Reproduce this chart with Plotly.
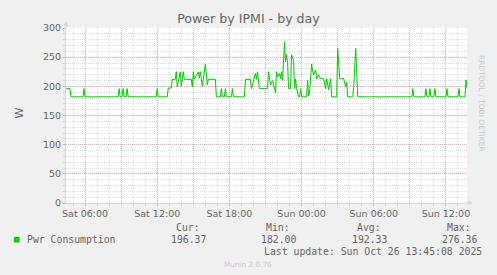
import pandas as pd
import plotly.graph_objects as go

# ---------------- data ----------------
series_name = "Pwr Consumption"
base_day = "2025-10-25 00:00"          # Sat
range_start_min = 265                  # Sat 04:25
range_end_min = 2265                   # Sun 13:45

# minutes since Sat 00:00 and watts
minutes = [265, 285, 290,
           350, 355, 360,
           525, 530, 535,
           545, 550, 555,
           565, 570, 575,
           715, 720, 725,
           770, 775, 790, 795, 810, 815, 820, 835, 840, 845, 850, 855, 890, 895, 900, 905,
           925, 930, 935, 945, 960, 970, 975, 1010, 1015,
           1035, 1040, 1045,
           1055, 1060, 1065,
           1090, 1095, 1100,
           1155, 1160, 1185, 1190, 1200, 1210, 1215, 1220, 1230, 1270, 1275, 1285, 1295,
           1305, 1310, 1315, 1320, 1330, 1335, 1340, 1345, 1355, 1360, 1365, 1370, 1375,
           1385, 1390, 1400, 1405, 1410, 1415, 1425, 1430, 1435, 1440,
           1465, 1470, 1475, 1480, 1490, 1495, 1500, 1510, 1515, 1525, 1535, 1550, 1560,
           1565, 1575, 1585, 1590,
           1615, 1620, 1630, 1650, 1660, 1665, 1670,
           1695, 1700, 1710, 1720,
           1990, 1995, 2000,
           2055, 2060, 2065,
           2075, 2080, 2085,
           2100, 2105, 2110,
           2160, 2165, 2170,
           2220, 2225, 2230,
           2255, 2260, 2265]
watts = [196, 196, 182,
         182, 196, 182,
         182, 196, 182,
         182, 196, 182,
         182, 196, 182,
         182, 196, 182,
         182, 197, 197, 212, 212, 225, 199, 225, 200, 218, 225, 212, 212, 199, 225, 212,
         225, 214, 225, 200, 238, 202, 212, 212, 182,
         182, 196, 182,
         182, 196, 182,
         182, 196, 182,
         182, 212, 212, 196, 212, 222, 212, 225, 196, 196, 225, 202, 210,
         196, 189, 225, 216, 222, 213, 225, 210, 276.36, 242, 254, 242, 196,
         196, 254, 245, 196, 213, 196, 182, 182, 196, 182,
         182, 210, 184, 190, 238, 226, 220, 228, 213, 220, 213, 213, 196,
         213, 194, 213, 182,
         182, 265, 213, 213, 199, 207, 182,
         182, 200, 265, 182,
         182, 196, 182,
         182, 196, 182,
         182, 196, 182,
         182, 196, 182,
         182, 196, 182,
         182, 196, 182,
         182, 211, 196.37]

stat_labels = ["Cur:", "Min:", "Avg:", "Max:"]
stat_values = ["196.37", "182.00", "192.33", "276.36"]
last_update = "Last update: Sun Oct 26 13:45:08 2025"

major_tick_hours = [6, 9, 12, 15, 18, 21, 24, 27, 30, 33, 36]
major_tick_text = ["Sat 06:00", "", "Sat 12:00", "", "Sat 18:00", "",
                   "Sun 00:00", "", "Sun 06:00", "", "Sun 12:00"]
minor_tick_hours = list(range(5, 38))
y_major = [0, 50, 100, 150, 200, 250, 300]
y_minor = list(range(0, 301, 10))

# ---------------- build ----------------
base = pd.Timestamp(base_day)
times = [base + pd.Timedelta(minutes=m) for m in minutes]
x0 = base + pd.Timedelta(minutes=range_start_min)
x1 = base + pd.Timedelta(minutes=range_end_min)
tickvals = [base + pd.Timedelta(hours=h) for h in major_tick_hours]
minorvals = [base + pd.Timedelta(hours=h) for h in minor_tick_hours]

W, H = 497, 275
PL, PR, PT, PB = 66, 467, 28, 203


def px(x):
    return (x - PL) / (PR - PL)


def py(y):
    return (PB - y) / (PB - PT)


FONT = "DejaVu Sans"
MONO = "DejaVu Sans Mono"
FC = "#666666"
AXC = "#CFD6F8"
MGRID = "rgba(230,110,110,0.45)"
GRID = "rgba(160,160,160,0.35)"
GREEN = "#00CC00"

fig = go.Figure()
fig.add_trace(go.Scatter(x=times, y=watts, mode="lines", name=series_name,
                         line=dict(color=GREEN, width=1), hoverinfo="skip"))

fig.update_layout(
    width=W, height=H,
    margin=dict(l=PL, r=W - PR, t=PT, b=H - PB),
    paper_bgcolor="#F0F0F0", plot_bgcolor="#FFFFFF",
    showlegend=False,
    font=dict(family=FONT, color=FC, size=9.5),
    title=dict(text="Power by IPMI - by day", x=0.5, xref="container", xanchor="center",
               y=1 - 19 / H, yref="container", yanchor="middle",
               font=dict(family=FONT, size=12.6, color=FC)),
)
fig.update_xaxes(
    type="date", range=[x0, x1], tickmode="array", tickvals=tickvals, ticktext=major_tick_text,
    showgrid=True, gridcolor=MGRID, griddash="1px,1px", gridwidth=1,
    ticks="outside", ticklen=2, tickcolor=MGRID,
    showline=True, linecolor=AXC, linewidth=1, zeroline=False,
    tickfont=dict(family=FONT, size=9.5, color=FC),
    minor=dict(tickmode="array", tickvals=minorvals, showgrid=True, gridcolor=GRID,
               griddash="1px,1px", gridwidth=1, ticks="outside", ticklen=2, tickcolor=GRID),
)
fig.update_yaxes(
    range=[0, 300], tickmode="array", tickvals=y_major,
    showgrid=True, gridcolor=MGRID, griddash="1px,1px", gridwidth=1,
    ticks="outside", ticklen=2, tickcolor=MGRID,
    showline=True, linecolor=AXC, linewidth=1, zeroline=False,
    tickfont=dict(family=FONT, size=9.5, color=FC),
    minor=dict(tickmode="array", tickvals=y_minor, showgrid=True, gridcolor=GRID,
               griddash="1px,1px", gridwidth=1, ticks="outside", ticklen=2, tickcolor=GRID),
)

ann = []
# y-axis title
ann.append(dict(text="W", x=px(10), y=py(113), xref="paper", yref="paper", showarrow=False,
                textangle=-90, font=dict(family=FONT, size=11, color=FC)))
# vertical credit
ann.append(dict(text="RRDTOOL / TOBI OETIKER", x=px(488), y=py(53), xref="paper", yref="paper",
                showarrow=False, textangle=90, font=dict(family=FONT, size=7.5, color="#C8C8C8")))
# axis arrows
ann.append(dict(text="", x=px(66), y=py(21), xref="paper", yref="paper", showarrow=True,
                ax=0, ay=9, arrowhead=2, arrowsize=1, arrowwidth=1, arrowcolor=AXC))
ann.append(dict(text="", x=px(473), y=py(203), xref="paper", yref="paper", showarrow=True,
                ax=-9, ay=0, arrowhead=2, arrowsize=1, arrowwidth=1, arrowcolor=AXC))
# legend
ann.append(dict(text=series_name, x=px(25), y=py(239.5), xref="paper", yref="paper",
                xanchor="left", yanchor="middle", showarrow=False,
                font=dict(family=MONO, size=9.8, color=FC)))
for cx, lab, val in zip([188, 278, 369, 459], stat_labels, stat_values):
    ann.append(dict(text=lab, x=px(cx), y=py(227.7), xref="paper", yref="paper",
                    xanchor="center", yanchor="middle", showarrow=False,
                    font=dict(family=MONO, size=9.8, color=FC)))
    ann.append(dict(text=val, x=px(cx), y=py(239.5), xref="paper", yref="paper",
                    xanchor="center", yanchor="middle", showarrow=False,
                    font=dict(family=MONO, size=9.8, color=FC)))
ann.append(dict(text=last_update, x=px(484), y=py(251), xref="paper", yref="paper",
                xanchor="right", yanchor="middle", showarrow=False,
                font=dict(family=MONO, size=9.8, color=FC)))
ann.append(dict(text="Munin 2.0.76", x=px(248), y=py(264.5), xref="paper", yref="paper",
                xanchor="center", yanchor="middle", showarrow=False,
                font=dict(family=FONT, size=7.3, color="#C8C8C8")))
fig.update_layout(annotations=ann)

fig.add_shape(type="rect", xref="paper", yref="paper",
              x0=px(14), x1=px(19.5), y0=py(242.5), y1=py(237),
              fillcolor=GREEN, line=dict(width=0))

fig.write_html("out.html")
